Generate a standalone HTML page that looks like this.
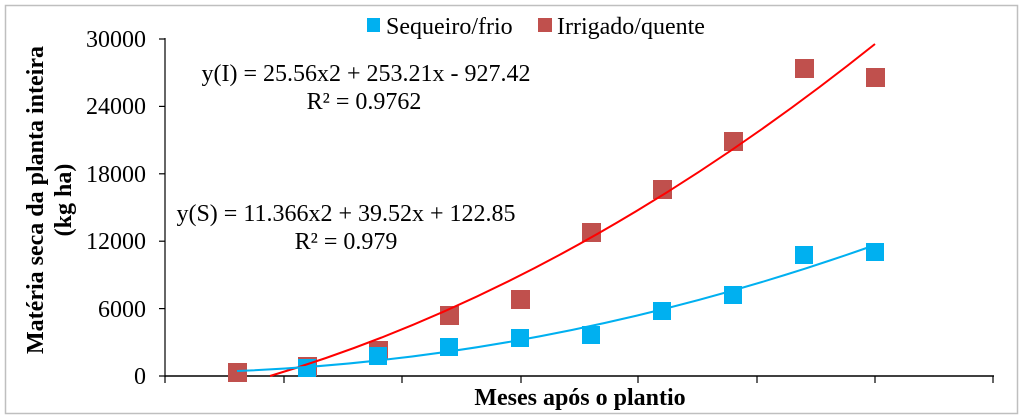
<!DOCTYPE html>
<html><head><style>
html,body{margin:0;padding:0;background:#fff;}
svg{display:block;}
text{font-family:"Liberation Serif",serif;fill:#000;}
</style></head><body>
<svg width="1024" height="418" viewBox="0 0 1024 418" xmlns="http://www.w3.org/2000/svg">
<rect x="5.5" y="5.5" width="1012" height="408" fill="#fff" stroke="#bfbfbf" stroke-width="1.5"/>
<!-- axes -->
<line x1="165" y1="38" x2="165" y2="377" stroke="#000" stroke-width="1.2"/>
<line x1="165" y1="376" x2="994" y2="376" stroke="#000" stroke-width="1.5"/>
<g stroke="#000" stroke-width="1.2">
<line x1="159" y1="39" x2="165" y2="39"/><line x1="159" y1="106.4" x2="165" y2="106.4"/>
<line x1="159" y1="173.8" x2="165" y2="173.8"/><line x1="159" y1="241.2" x2="165" y2="241.2"/>
<line x1="159" y1="308.6" x2="165" y2="308.6"/><line x1="159" y1="376" x2="165" y2="376"/>
<line x1="165" y1="376" x2="165" y2="383"/><line x1="284" y1="376" x2="284" y2="383"/>
<line x1="402" y1="376" x2="402" y2="383"/><line x1="521" y1="376" x2="521" y2="383"/>
<line x1="638" y1="376" x2="638" y2="383"/><line x1="757" y1="376" x2="757" y2="383"/>
<line x1="875" y1="376" x2="875" y2="383"/><line x1="993" y1="376" x2="993" y2="383"/>
</g>
<g font-size="24" text-anchor="end">
<text x="146" y="47">30000</text><text x="146" y="114">24000</text>
<text x="146" y="182">18000</text><text x="146" y="249">12000</text>
<text x="146" y="317">6000</text><text x="146" y="384">0</text>
</g>
<g transform="translate(43,200) rotate(-90)" font-weight="bold" font-size="24" text-anchor="middle">
<text x="0" y="0">Matéria seca da planta inteira</text>
<text x="0" y="28">(kg ha)</text>
</g>
<text x="580" y="405" font-weight="bold" font-size="24" text-anchor="middle">Meses após o plantio</text>
<!-- legend -->
<rect x="367" y="18" width="13" height="14" fill="#00b0f0"/>
<text x="386" y="34" font-size="24">Sequeiro/frio</text>
<rect x="538" y="18" width="14" height="14" fill="#c0504d"/>
<text x="557" y="34" font-size="24">Irrigado/quente</text>
<!-- equations -->
<g font-size="24" text-anchor="middle">
<text x="366" y="81">y(I) = 25.56x2 + 253.21x - 927.42</text>
<text x="364" y="109">R² = 0.9762</text>
<text x="346" y="221">y(S) = 11.366x2 + 39.52x + 122.85</text>
<text x="346" y="249">R² = 0.979</text>
</g>
<!-- squares -->
<g fill="#c0504d">
<rect x="228" y="363" width="19" height="19"/><rect x="298" y="357" width="19" height="19"/>
<rect x="369" y="341" width="19" height="19"/><rect x="440" y="306" width="19" height="19"/>
<rect x="511" y="290" width="19" height="19"/><rect x="582" y="223" width="19" height="19"/>
<rect x="653" y="180" width="19" height="19"/><rect x="724" y="132" width="19" height="19"/>
<rect x="795" y="59" width="19" height="19"/><rect x="866" y="68" width="19" height="19"/>
</g>
<g fill="#00b0f0">
<rect x="298" y="359" width="18" height="18"/><rect x="369" y="347" width="18" height="18"/>
<rect x="440" y="338" width="18" height="18"/><rect x="511" y="329" width="18" height="18"/>
<rect x="582" y="326" width="18" height="18"/><rect x="653" y="302" width="18" height="18"/>
<rect x="724" y="286" width="18" height="18"/><rect x="795" y="246" width="18" height="18"/>
<rect x="866" y="243" width="18" height="18"/>
</g>
<path d="M270,376 Q572.5,285.7 875,44" fill="none" stroke="#ff0000" stroke-width="2"/>
<path d="M237,371 Q556,358.4 875,245" fill="none" stroke="#00b0f0" stroke-width="2"/>
</svg>
</body></html>
